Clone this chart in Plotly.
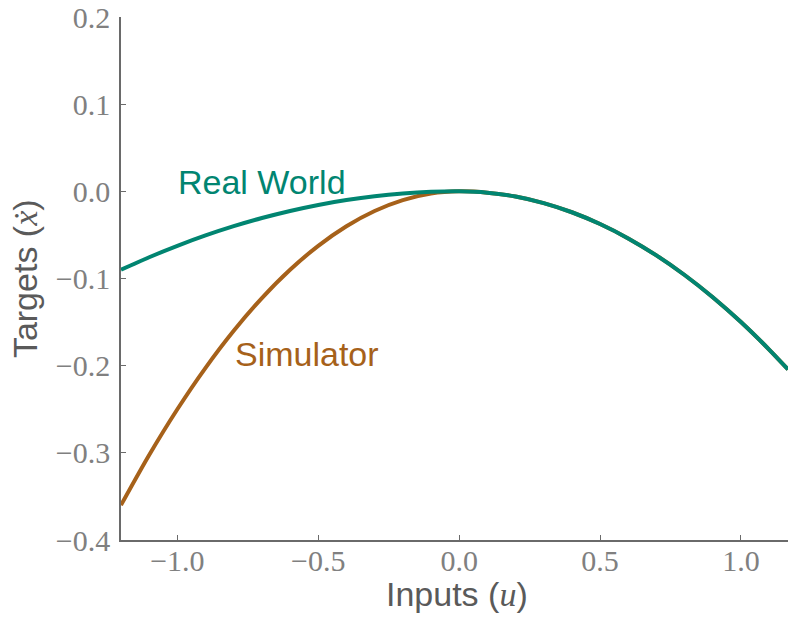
import plotly.graph_objects as go

# Input grid (u) and the response of each model
inputs_u = [-1.2, -1.1, -1.0, -0.9, -0.8, -0.7, -0.6, -0.5, -0.4, -0.3, -0.2, -0.1,
            0.0, 0.1, 0.2, 0.3, 0.4, 0.5, 0.6, 0.7, 0.8, 0.9, 1.0, 1.1, 1.167]
real_world = [-0.0900, -0.0756, -0.0625, -0.0506, -0.0400, -0.0306, -0.0225, -0.0156,
              -0.0100, -0.0056, -0.0025, -0.0006, 0.0, -0.0015, -0.0060, -0.0135,
              -0.0240, -0.0375, -0.0540, -0.0735, -0.0960, -0.1215, -0.1500, -0.1815,
              -0.2043]
simulator = [-0.3600, -0.3025, -0.2500, -0.2025, -0.1600, -0.1225, -0.0900, -0.0625,
             -0.0400, -0.0225, -0.0100, -0.0025, 0.0, -0.0015, -0.0060, -0.0135,
             -0.0240, -0.0375, -0.0540, -0.0735, -0.0960, -0.1215, -0.1500, -0.1815,
             -0.2043]

x_ticks = [-1.0, -0.5, 0.0, 0.5, 1.0]
y_ticks = [-0.4, -0.3, -0.2, -0.1, 0.0, 0.1, 0.2]

BROWN = "#a6611a"
TEAL = "#018571"
AXIS = "#6a6a6a"
TICK_FONT = dict(family="Liberation Serif", size=30, color="#808080")
SANS = "Liberation Sans"

fig = go.Figure()
fig.add_trace(go.Scatter(x=inputs_u, y=simulator, mode="lines",
                         line=dict(color=BROWN, width=4, shape="spline", smoothing=0.8),
                         showlegend=False, hoverinfo="skip"))
fig.add_trace(go.Scatter(x=inputs_u, y=real_world, mode="lines",
                         line=dict(color=TEAL, width=4, shape="spline", smoothing=0.8),
                         showlegend=False, hoverinfo="skip"))

fig.update_xaxes(range=[-1.2, 1.167], tickvals=x_ticks, tickformat=".1f",
                 ticks="inside", ticklen=5, tickcolor=AXIS, tickwidth=1,
                 showline=True, linecolor=AXIS, linewidth=1.5, showgrid=False,
                 zeroline=False, tickfont=TICK_FONT, ticklabelstandoff=-7)
fig.update_yaxes(range=[-0.4, 0.2], tickvals=y_ticks, tickformat=".1f",
                 ticks="inside", ticklen=5, tickcolor=AXIS, tickwidth=1,
                 showline=True, linecolor=AXIS, linewidth=1.5, showgrid=False,
                 zeroline=False, tickfont=TICK_FONT, ticklabelstandoff=3)

annotations = [
    dict(x=-0.70, y=0.011, xref="x", yref="y", text="Real World", showarrow=False,
         font=dict(family=SANS, size=34, color=TEAL)),
    dict(x=-0.54, y=-0.187, xref="x", yref="y", text="Simulator", showarrow=False,
         font=dict(family=SANS, size=34, color=BROWN)),
    dict(x=0.503, y=-0.063, xref="paper", yref="paper", yanchor="top",
         text="Inputs (<span style='font-family:Liberation Serif'><i>u</i></span>)",
         showarrow=False, font=dict(family=SANS, size=34, color="#5a5a5a")),
    dict(x=-0.176, y=0.5, xref="paper", yref="paper", textangle=-90,
         text="Targets (<span style='font-family:Liberation Serif'><i>x\u0307</i></span>)",
         showarrow=False, font=dict(family=SANS, size=34, color="#5a5a5a")),
]

fig.update_layout(width=788, height=619, margin=dict(l=121, r=0, t=17, b=79),
                  paper_bgcolor="white", plot_bgcolor="white",
                  annotations=annotations)

fig.write_html("out.html")
